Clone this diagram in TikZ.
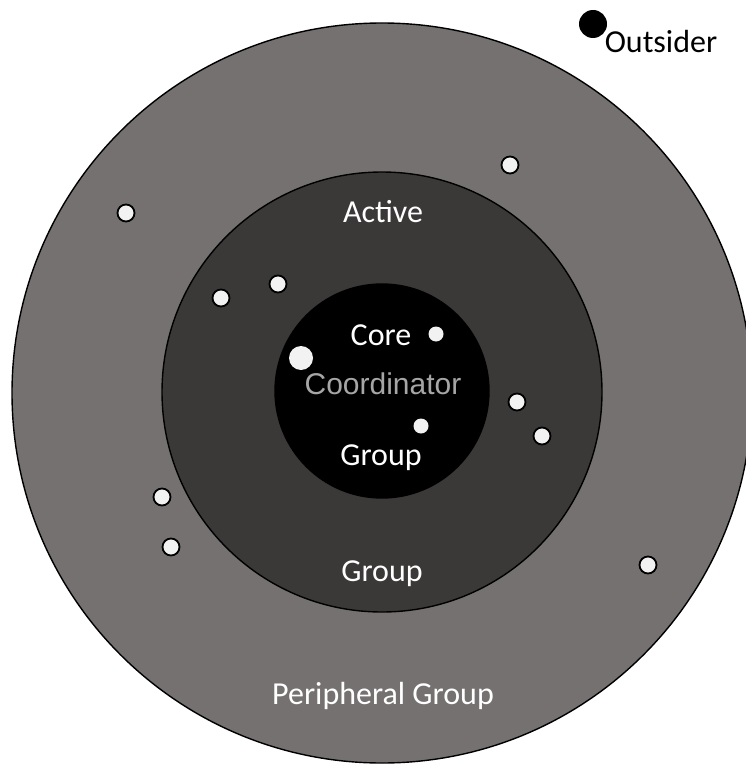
\documentclass[tikz,border=0pt]{standalone}
\usepackage{fontspec}
\setmainfont{Carlito}
\newfontfamily\arialfont{Liberation Sans}
\usepackage{tikz}
\definecolor{periGray}{RGB}{118,113,113}
\definecolor{activeGray}{RGB}{59,56,56}
\definecolor{coordGray}{RGB}{166,166,166}
\definecolor{dotWhite}{RGB}{242,242,242}

\begin{document}
\begin{tikzpicture}[x=1pt,y=-1pt,
	ring/.style={circle, draw=black, line width=1.4pt, inner sep=0pt},
	label/.style={anchor=base, inner sep=0pt, text=white, font=\fontsize{32}{38}\selectfont},
	member/.style={circle, draw=black, line width=1.8pt, fill=dotWhite, inner sep=0pt, minimum size=17pt},
	coremember/.style={circle, fill=dotWhite, inner sep=0pt, minimum size=15pt}]
		\useasboundingbox (0,0) rectangle (746,765);
		\node[ring, fill=periGray, minimum size=740pt] (peri) at (382,393) {};
		\node[ring, fill=activeGray, minimum size=440pt] (active) at (382,392) {};
		\node[ring, fill=black, minimum size=214pt] (core) at (382,391) {};
		\node[label] (activeL) at (383,222) {Active};
		\node[label] (activeG) at (382,581) {Group};
		\node[label] (periL) at (383,704) {Peripheral Group};
		\node[label] (coreL) at (381,345) {Core};
		\node[label] (coreG) at (381,465) {Group};
		\node[label, text=coordGray, font=\arialfont\fontsize{30}{36}\selectfont] (coordL) at (383,394) {Coordinator};
		\node[circle, fill=black, inner sep=0pt, minimum size=28pt] (outsider) at (593,24) {};
		\node[label, text=black] (outsiderL) at (661,53) {Outsider};
		\foreach \x/\y/\name in {
			510/165/p1,
			126/213/p2,
			162/497/p3,
			171/547/p4,
			648/565/p5,
			221/298/a1,
			278/284/a2,
			517/402/a3,
			542/436/a4
		}{
			\node[member] (\name) at (\x,\y) {};
		}
		\node[coremember] (c1) at (436,334) {};
		\node[coremember] (c2) at (421,426) {};
		\node[coremember, minimum size=24pt] (coord) at (301,358) {};
	\end{tikzpicture}
\end{document}
